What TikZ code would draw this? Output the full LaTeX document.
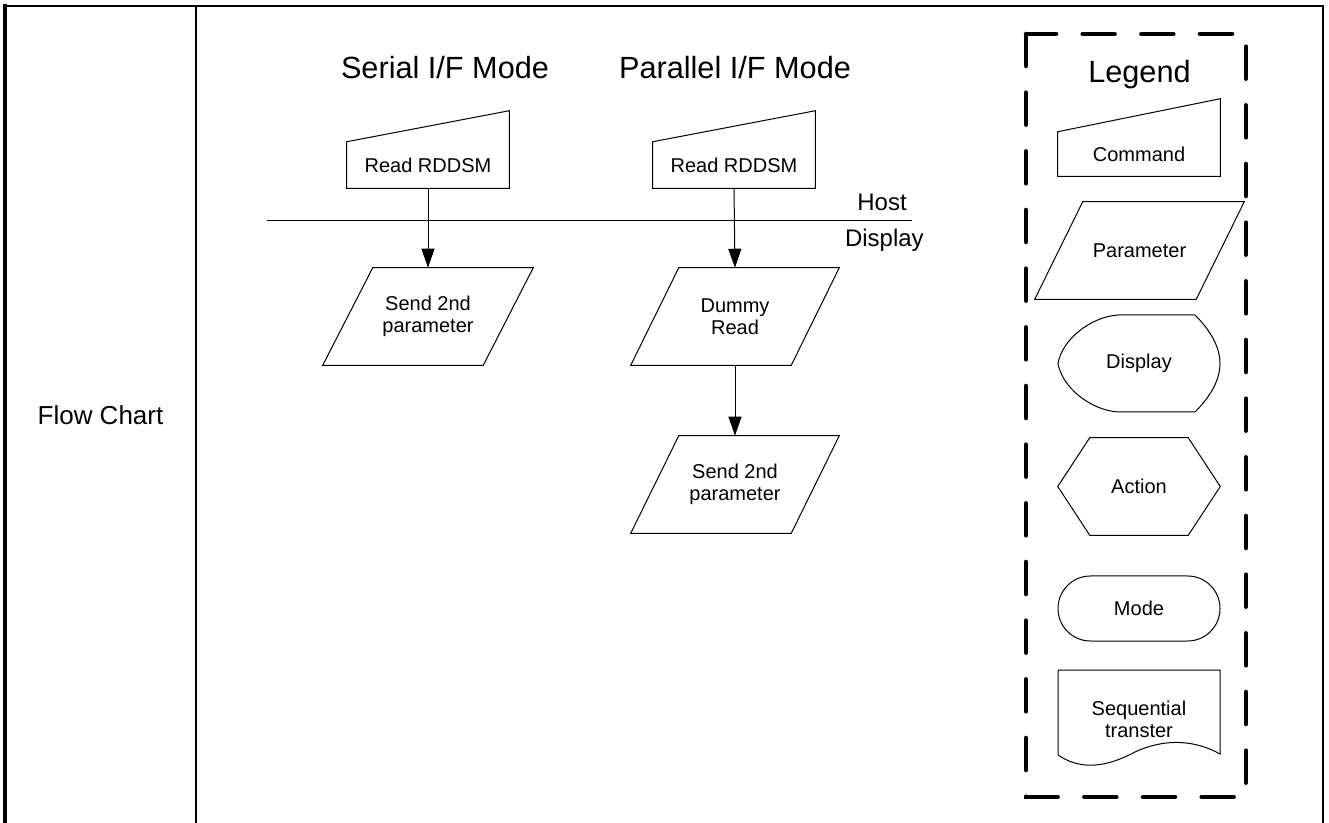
\documentclass[tikz,border=0pt]{standalone}
\usepackage{fontspec}
\setmainfont{Liberation Sans}
\usetikzlibrary{arrows.meta}
\tikzset{
  body/.style={font=\fontsize{15pt}{16.5pt}\selectfont, align=center, inner sep=0pt},
  titletxt/.style={font=\fontsize{23pt}{27pt}\selectfont, inner sep=0pt},
  sidetxt/.style={font=\fontsize{18pt}{21pt}\selectfont, inner sep=0pt},
  labeltxt/.style={font=\fontsize{19.5pt}{23pt}\selectfont, inner sep=0pt},
  shp/.style={draw, line width=0.75pt},
  flowarrow/.style={-{Triangle[length=14.25pt,width=9.75pt]}, line width=0.75pt},
  frameline/.style={line width=2pt},
  legbox/.style={line width=3.4pt, line cap=round, dash pattern=on 24pt off 20pt},
}
\begin{document}
\begin{tikzpicture}[x=0.75pt, y=-0.75pt]
\useasboundingbox (0,0) rectangle (1329,823);

% outer frame
\draw[frameline] (196,823) -- (196,6);
\draw[frameline] (5,6) -- (1323,6) -- (1323,823);
\draw[line width=3pt] (5.3,4.5) -- (5.3,823);

\node[labeltxt, anchor=base] (fc) at (100.5,425) {Flow Chart};

% titles
\node[titletxt, anchor=base] (stitle) at (445,79) {Serial I/F Mode};
\node[titletxt, anchor=base] (ptitle) at (735,79) {Parallel I/F Mode};

% host / display line
\coordinate (hl) at (267,221);
\coordinate (hr) at (912,221);
\draw[line width=0.75pt] (hl) -- (hr);
\node[sidetxt, anchor=base east] (host) at (907,211) {Host};
\node[sidetxt, anchor=base east] (disp) at (924,247) {Display};

% serial column
\node[body, minimum width=121.5pt, minimum height=34.5pt] (scmd) at (428,165) {Read RDDSM};
\draw[shp] (scmd.north west) -- ([shift={(0,-31)}]scmd.north east) -- (scmd.south east) -- (scmd.south west) -- cycle;
\node[body, minimum width=82.5pt, minimum height=72.75pt] (spar) at (428,316.5) {Send 2nd\\parameter};
\draw[shp] (spar.north west) -- ([shift={(50,0)}]spar.north east) -- (spar.south east) -- ([shift={(-50,0)}]spar.south west) -- cycle;
\draw[flowarrow] (scmd.south) -- (spar.north);

% parallel column
\node[body, minimum width=121.5pt, minimum height=34.5pt] (pcmd) at (734,165) {Read RDDSM};
\draw[shp] (pcmd.north west) -- ([shift={(0,-31)}]pcmd.north east) -- (pcmd.south east) -- (pcmd.south west) -- cycle;
\node[body, minimum width=84pt, minimum height=72.75pt] (pdum) at (735,316.5) {Dummy\\Read};
\draw[shp] (pdum.north west) -- ([shift={(48,0)}]pdum.north east) -- (pdum.south east) -- ([shift={(-48,0)}]pdum.south west) -- cycle;
\node[body, minimum width=84pt, minimum height=72.75pt] (psend) at (735,484.5) {Send 2nd\\parameter};
\draw[shp] (psend.north west) -- ([shift={(48,0)}]psend.north east) -- (psend.south east) -- ([shift={(-48,0)}]psend.south west) -- cycle;
\draw[flowarrow] (pcmd.south) -- (pdum.north);
\draw[flowarrow] (pdum.south) -- (psend.north);

% legend
\draw[legbox] (1026,34) rectangle (1246,797);
\node[titletxt, anchor=base] (legt) at (1139.5,83) {Legend};

\node[body, minimum width=121.5pt, minimum height=33pt] (lcmd) at (1139,154) {Command};
\draw[shp] (lcmd.north west) -- ([shift={(0,-33)}]lcmd.north east) -- (lcmd.south east) -- (lcmd.south west) -- cycle;

\node[body, minimum width=84.75pt, minimum height=72.75pt] (lpar) at (1139.5,250.5) {Parameter};
\draw[shp] (lpar.north west) -- ([shift={(48,0)}]lpar.north east) -- (lpar.south east) -- ([shift={(-48,0)}]lpar.south west) -- cycle;

\node[body] (ldisp) at (1139,363.5) {Display};
\begin{scope}[shift={(ldisp.center)}]
\draw[shp] (-21,-48.5) -- (56,-48.5) .. controls (69,-35.5) and (81,-18.5) .. (81,0)
  .. controls (81,18.5) and (69,35.5) .. (56,48.5) -- (-21,48.5)
  .. controls (-49,46.5) and (-77,23.5) .. (-81,0)
  .. controls (-77,-23.5) and (-49,-46.5) .. cycle;
\end{scope}

\node[body, minimum width=121.5pt, minimum height=72.75pt] (lact) at (1139,486.5) {Action};
\draw[shp] ([shift={(32,0)}]lact.north west) -- ([shift={(-32,0)}]lact.north east) -- (lact.east)
  -- ([shift={(-32,0)}]lact.south east) -- ([shift={(32,0)}]lact.south west) -- (lact.west) -- cycle;

\node[body, shp, rounded corners=24.3pt, minimum width=121.5pt, minimum height=48.75pt] (lmode) at (1139,608.5) {Mode};

\node[body] (lseq) at (1139,719) {Sequential\\transter};
\begin{scope}[shift={(lseq.center)}]
\draw[shp] (-81,-49) -- (81,-49) -- (81,35) .. controls (56,21) and (26,19) .. (-4,33)
  .. controls (-34,49) and (-59,51) .. (-81,36) -- cycle;
\end{scope}
\end{tikzpicture}
\end{document}
